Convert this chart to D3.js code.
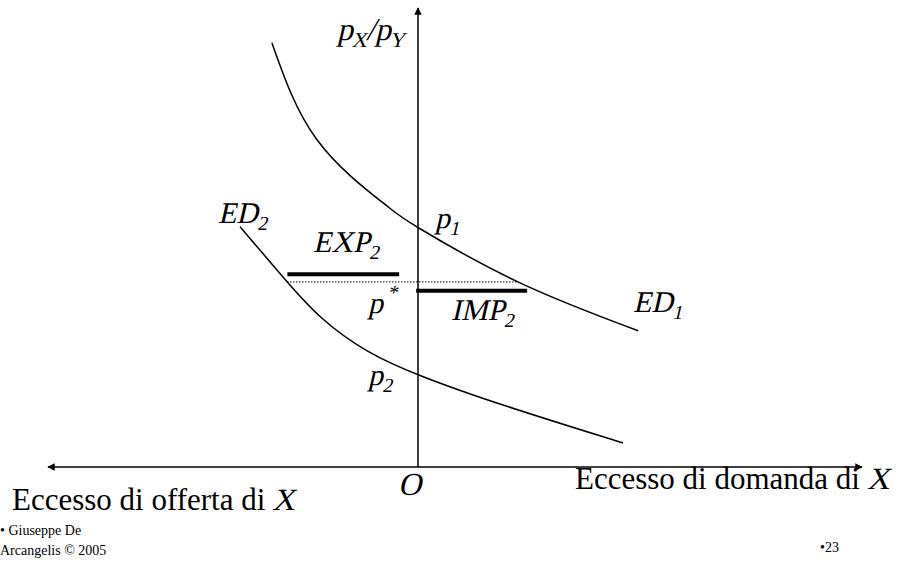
<!DOCTYPE html>
<html>
<head>
<meta charset="utf-8">
<script src="https://cdn.jsdelivr.net/npm/d3@7"></script>
<style>
  body { margin: 0; background: #fff; }
</style>
</head>
<body>
<div id="chart"></div>
<script>
// excess demand curves (x = excess quantity, y = relative price)
var ed1X = [-3.95, -2.73, -0.95, 0, 2.70, 5.95];
var ed1Y = [11.46, 8.84, 7.14, 6.47, 5.00, 3.68];
var ed2X = [-4.81, -3.54, -2.65, -1.38, 0, 2.22, 5.54];
var ed2Y = [6.49, 5.00, 4.00, 3.08, 2.47, 1.68, 0.65];

// p* line and the two trade volumes
var pStar = 5.0;
var pStarX = [-3.54, 2.70];
var expBar = {y: 5.21, x: [-3.53, -0.51]};
var impBar = {y: 4.76, x: [-0.05, 2.95]};

var width = 902, height = 565;
var serif = '"Liberation Serif", "Times New Roman", Times, serif';
var slant = -13; // fake italic, the serif italic face falls back to a sans

var svg = d3.select('#chart').append('svg')
  .attr('width', width)
  .attr('height', height)
  .attr('font-family', serif);

var x = d3.scaleLinear().domain([-10, 12]).range([48, 862]);
var y = d3.scaleLinear().domain([0, 12.4]).range([467, 8]);

var defs = svg.append('defs');
defs.append('marker')
  .attr('id', 'arr')
  .attr('viewBox', '0 0 10 10')
  .attr('refX', 9).attr('refY', 5)
  .attr('markerWidth', 6).attr('markerHeight', 5)
  .attr('markerUnits', 'strokeWidth')
  .attr('orient', 'auto-start-reverse')
  .append('path').attr('d', 'M0,0 L10,5 L0,10 z').attr('fill', '#000');

// axes
svg.append('line')
  .attr('x1', x(-10)).attr('x2', x(12))
  .attr('y1', y(0)).attr('y2', y(0))
  .attr('stroke', '#000').attr('stroke-width', 1.5)
  .attr('marker-start', 'url(#arr)')
  .attr('marker-end', 'url(#arr)');

svg.append('line')
  .attr('x1', x(0)).attr('x2', x(0))
  .attr('y1', y(0)).attr('y2', y(12.4))
  .attr('stroke', '#000').attr('stroke-width', 1.5)
  .attr('marker-end', 'url(#arr)');

// curves
function curveLine(curve) {
  return d3.line()
    .x(function(d) { return x(d[0]); })
    .y(function(d) { return y(d[1]); })
    .curve(curve);
}

[[ed1X, ed1Y, d3.curveNatural], [ed2X, ed2Y, d3.curveBasis]].forEach(function(c) {
  svg.append('path')
    .datum(d3.zip(c[0], c[1]))
    .attr('d', curveLine(c[2]))
    .attr('fill', 'none')
    .attr('stroke', '#000')
    .attr('stroke-width', 1.5);
});

// dotted p* line
svg.append('line')
  .attr('x1', x(pStarX[0])).attr('x2', x(pStarX[1]))
  .attr('y1', y(pStar)).attr('y2', y(pStar))
  .attr('stroke', '#000').attr('stroke-width', 1)
  .attr('stroke-dasharray', '1.5,1.5');

// trade bars
[expBar, impBar].forEach(function(b) {
  svg.append('line')
    .attr('x1', x(b.x[0])).attr('x2', x(b.x[1]))
    .attr('y1', y(b.y)).attr('y2', y(b.y))
    .attr('stroke', '#000').attr('stroke-width', 4);
});

// slanted serif text, placed at baseline (px, py)
function ital(px, py, size) {
  return svg.append('text')
    .attr('transform', 'translate(' + px + ',' + py + ') skewX(' + slant + ')')
    .attr('font-family', serif)
    .attr('font-size', size);
}

// label with subscript / superscript
function label(px, py, main, sub, sup, size) {
  size = size || 30;
  var t = ital(px, py, size);
  t.append('tspan').text(main);
  if (sub) t.append('tspan').attr('dx', 1).attr('dy', 7).attr('font-size', size * 0.66).text(sub);
  if (sup) t.append('tspan').attr('dx', 1).attr('dy', -14).attr('font-size', size * 0.66).text(sup);
  return t;
}

// p_X / p_Y
var yl = ital(337, 40, 32);
yl.append('tspan').text('p');
yl.append('tspan').attr('dy', 7).attr('font-size', 21).text('X');
yl.append('tspan').attr('dy', -7).attr('dx', -2).text('/p');
yl.append('tspan').attr('dy', 7).attr('font-size', 21).text('Y');

label(218, 223, 'ED', '2');
label(313, 252, 'EXP', '2');
label(435, 228, 'p', '1');
label(368, 313, 'p', null, '*');
label(451, 320, 'IMP', '2');
label(633, 312, 'ED', '1');
label(368, 385, 'p', '2');

ital(398, 495, 32).text('O');

// bottom axis captions, the X is slanted
function caption(px, py, str) {
  var t = svg.append('text').attr('x', px).attr('y', py).attr('font-size', 31).text(str);
  var w = t.node().getComputedTextLength();
  ital(px + w + 7, py, 31).text('X');
}
caption(12, 510, 'Eccesso di offerta di');
caption(575, 489, 'Eccesso di domanda di');

// footer
svg.append('text').attr('x', 0).attr('y', 535).attr('font-size', 14).text('\u2022 Giuseppe De');
svg.append('text').attr('x', 0).attr('y', 555).attr('font-size', 14).text('Arcangelis \u00a9 2005');
svg.append('text').attr('x', 820).attr('y', 552).attr('font-size', 14).text('\u202223');
</script>
</body>
</html>
